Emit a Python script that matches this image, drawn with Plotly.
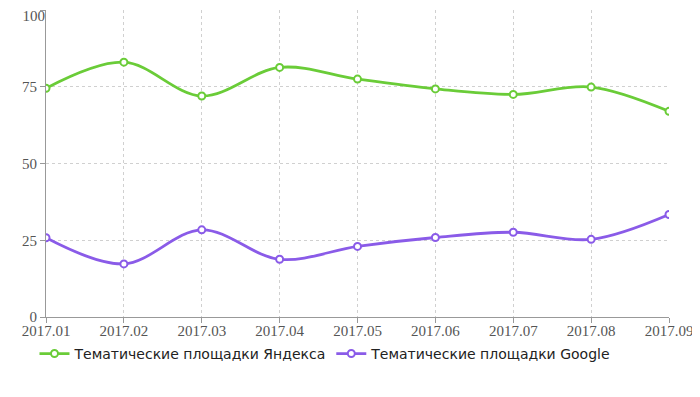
import plotly.graph_objects as go

months = ["2017.01", "2017.02", "2017.03", "2017.04", "2017.05", "2017.06", "2017.07", "2017.08", "2017.09"]
yandex = [74.5, 83, 72, 81.3, 77.5, 74.3, 72.5, 74.9, 67]
google = [25.8, 17.3, 28.4, 18.8, 23, 25.9, 27.6, 25.3, 33.4]
tick_vals = [0, 25, 50, 75, 100]
tick_text = ["0", "25", "50", "75", "100"]

fig = go.Figure()
fig.add_trace(go.Scatter(
    x=months, y=yandex, name="Тематические площадки Яндекса",
    mode="lines+markers",
    line=dict(color="#6acc38", width=2.8, shape="spline", smoothing=1),
    marker=dict(symbol="circle", size=7, color="white", line=dict(color="#6acc38", width=2)),
))
fig.add_trace(go.Scatter(
    x=months, y=google, name="Тематические площадки Google",
    yaxis="y2",
    mode="lines+markers",
    line=dict(color="#8a5be8", width=2.8, shape="spline", smoothing=1),
    marker=dict(symbol="circle", size=7, color="white", line=dict(color="#8a5be8", width=2)),
))

tick_font = dict(family="Liberation Serif", size=15, color="#555")

fig.update_layout(
    width=692, height=370,
    margin=dict(l=38, r=31, t=2, b=61, autoexpand=False),
    plot_bgcolor="white", paper_bgcolor="white",
    showlegend=True,
    legend=dict(orientation="h", xref="container", yref="container",
                x=0.4588, xanchor="center", y=0.065, yanchor="middle",
                font=dict(family="DejaVu Sans", size=14, color="#222"),
                itemwidth=30, tracegroupgap=0),
    xaxis=dict(
        type="category", range=[0, 8], automargin=False,
        showline=True, linecolor="#999", linewidth=1,
        ticks="outside", ticklen=5, tickcolor="#999",
        ticklabelstandoff=-5, ticklabeloverflow="allow",
        showgrid=True, gridcolor="#d0d0d0", griddash="dot", gridwidth=1,
        tickfont=tick_font, zeroline=False,
    ),
    yaxis=dict(
        range=[0, 100], tickvals=tick_vals,
        ticktext=tick_text[:-1] + [""], automargin=False,
        showline=True, linecolor="#999", linewidth=1,
        ticks="outside", ticklen=5, tickcolor="#999",
        ticklabeloverflow="allow",
        showgrid=True, gridcolor="#d0d0d0", griddash="dot", gridwidth=1,
        tickfont=tick_font, zeroline=False,
    ),
    yaxis2=dict(
        overlaying="y", anchor="x", side="left", range=[0, 100],
        tickvals=tick_vals[-1:], ticktext=tick_text[-1:],
        ticklabelshift=6, ticklabeloverflow="allow",
        showgrid=False, zeroline=False, showline=False, ticks="",
        automargin=False, tickfont=tick_font,
    ),
)

fig.write_html("out.html")
